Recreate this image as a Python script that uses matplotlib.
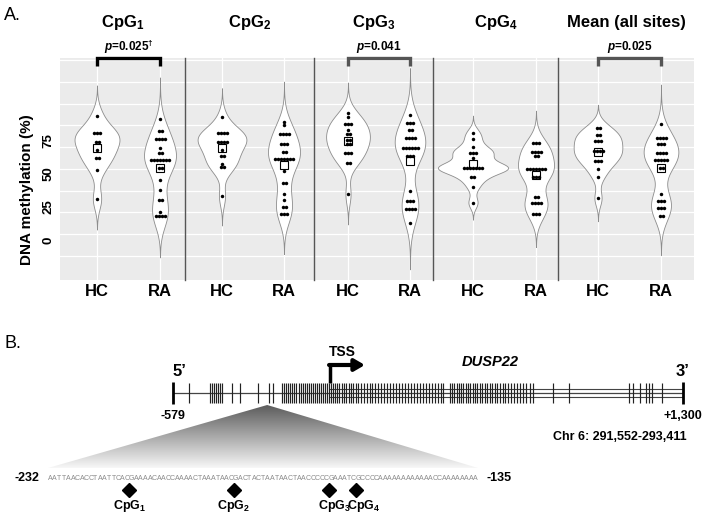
import numpy as np
import matplotlib.pyplot as plt
from matplotlib.colors import LinearSegmentedColormap
from matplotlib.patches import Polygon
import matplotlib.transforms as mtransforms

plt.rcParams['font.family'] = ['Liberation Sans', 'DejaVu Sans']
plt.rcParams['mathtext.fontset'] = 'custom'
plt.rcParams['mathtext.rm'] = 'Liberation Sans:bold'
plt.rcParams['mathtext.it'] = 'Liberation Sans:italic:bold'
plt.rcParams['mathtext.bf'] = 'Liberation Sans:bold'

W, H = 702, 518

# ---------------- data, panel A (% methylation)
site_titles = ['CpG$_1$', 'CpG$_2$', 'CpG$_3$', 'CpG$_4$', 'Mean (all sites)']
groups = ['HC', 'RA']
p_labels = ['$p$=0.025$^{\u2020}$', None, '$p$=0.041', None, '$p$=0.025']
bracket_colors = ['black', None, '#555555', None, '#555555']

hc_cpg1 = [94, 81, 81, 81, 74.5, 74.5, 68, 62.5, 62.5, 53, 31]
ra_cpg1 = [92, 82.5, 82.5, 76.5, 76.5, 76.5, 76.5, 70, 65.7, 65.7,
           60.6, 60.6, 60.6, 60.6, 60.6, 60.6, 60.6, 54.3, 54.3, 45.5,
           38, 30, 30, 21.5, 18, 18, 18, 18]
hc_cpg2 = [93, 81, 81, 81, 81, 74.5, 74.5, 74.5, 74.5, 68, 63.5, 63.5,
           57.5, 55, 55, 33]
ra_cpg2 = [89.6, 87, 80, 80, 80, 80, 72.5, 72.5, 72.5, 66.4, 66.4,
           61.4, 61.4, 61.4, 61.4, 61.4, 61.4, 61.4, 52.5, 43.4, 43.4,
           35, 30.3, 24.7, 24.7, 19.7, 19.7, 19.7]
hc_cpg3 = [96.5, 93, 88, 88, 88, 83, 80, 80, 76, 76, 73, 73, 65.7, 65.7,
           65.7, 58.6, 58.6, 34.6]
ra_cpg3 = [95, 89, 89, 89, 83, 83, 77, 77, 77, 77, 69.4, 69.4, 69.4,
           69.4, 69.4, 69.4, 63.6, 63.6, 63.6, 37.4, 29.8, 29.8, 29.8,
           23.2, 23.2, 23.2, 23.2, 13]
hc_cpg4 = [81.3, 76.3, 70.2, 66.2, 66.2, 66.2, 62, 54.8, 54.8, 54.8, 54.8,
           54.8, 54.8, 54.8, 47.5, 47.5, 40.4, 28.3]
ra_cpg4 = [73.2, 73.2, 73.2, 67, 67, 67, 67, 63.6, 63.6, 53.8, 53.8, 53.8,
           53.8, 53.8, 53.8, 53.8, 48, 48, 48, 32.8, 32.8, 27.8, 27.8,
           27.8, 27.8, 19.4, 19.4, 19.4]
hc_mean = [85, 85, 79.5, 79.5, 75.2, 75.2, 75.2, 67.4, 67.4, 67.4, 67.4,
           60, 60, 60, 53.5, 48, 31.6]
ra_mean = [88, 77.5, 77.5, 77.5, 77.5, 72.5, 72.5, 72.5, 65.7, 65.7, 65.7,
           65.7, 60.6, 60.6, 60.6, 60.6, 60.6, 54.3, 54.3, 34.8, 29.8,
           29.8, 29.8, 24.5, 24.5, 24.5, 18.4, 18.4]

hc_sets = [hc_cpg1, hc_cpg2, hc_cpg3, hc_cpg4, hc_mean]
ra_sets = [ra_cpg1, ra_cpg2, ra_cpg3, ra_cpg4, ra_mean]

# ---------------- data, panel B
region_start, region_end = -579, 1300
tss = 0
cpg_bp = [-520, -443, -435, -428, -421, -413, -406, -398, -362, -332, -266,
          -225, -211, -177, -170, -163, -155, -148, -141, -133, -126, -115,
          -107, -100, -93, -85, -78, -71, -63, -56, -48, -41, -34, -26, -19,
          -12, -4, 3, 10, 18, 25, 33, 44, 51, 58, 69, 77, 84, 95, 103, 114,
          125, 136, 147, 154, 165, 176, 187, 198, 209, 221, 232, 243, 254,
          265, 276, 287, 298, 309, 320, 331, 342, 353, 364, 375, 386, 397,
          408, 416, 442, 449, 456, 467, 475, 482, 490, 501, 508, 515, 526,
          534, 541, 552, 559, 571, 578, 589, 596, 607, 615, 626, 637, 644,
          655, 666, 677, 688, 700, 711, 722, 736, 747, 821, 880, 1101, 1116,
          1142, 1163, 1175, 1186, 1223]
seq_start, seq_end = -232, -135
sequence = ('AATTAACACCTAATTCACGAAAACAACCAAAACTAAATAACGACTACTAATAACTAACCC'
            'CCGAAATCGCCCCAAAAAAAAAAAACCAAAAAAAA')
seq_cpg_labels = ['CpG$_1$', 'CpG$_2$', 'CpG$_3$', 'CpG$_4$']


def nrd0(x):
    x = np.asarray(x, float)
    q75, q25 = np.percentile(x, [75, 25])
    s = min(np.std(x, ddof=1), (q75 - q25) / 1.34)
    return 0.9 * s * len(x) ** -0.2


def kde(x, cut=3, n=256):
    x = np.asarray(x, float)
    bw = nrd0(x)
    grid = np.linspace(x.min() - cut * bw, x.max() + cut * bw, n)
    d = np.exp(-0.5 * ((grid[:, None] - x[None, :]) / bw) ** 2).sum(1)
    return grid, d / (len(x) * bw * np.sqrt(2 * np.pi))


fig = plt.figure(figsize=(W / 100, H / 100), dpi=100)

# overlay axes in pixel units (used for the zoom wedge)
axo = fig.add_axes([0, 0, 1, 1])
axo.set_xlim(0, W)
axo.set_ylim(H, 0)
axo.axis('off')

# ---------------- panel A
facet_edges = [60, 185, 314, 433, 558, 694]
hc_px = [97, 222, 348, 473, 598]
ra_px = [160, 284, 410, 536, 661]
top_px, bot_px = 58, 280
y0_px, px_per_unit = 240, 33 / 25.0
ylim = ((y0_px - bot_px) / px_per_unit, (y0_px - top_px) / px_per_unit)
grid_y = np.arange(-12.1, 140, 16.5)
K = 870  # half-width in px per unit density

for i in range(5):
    l, r = facet_edges[i], facet_edges[i + 1]
    s = ra_px[i] - hc_px[i]
    ax = fig.add_axes([l / W, 1 - bot_px / H, (r - l) / W, (bot_px - top_px) / H])
    ax.set_facecolor('#EBEBEB')
    ax.set_xlim((l - hc_px[i]) / s, (r - hc_px[i]) / s)
    ax.set_ylim(*ylim)
    for gy in grid_y:
        ax.axhline(gy, color='white', lw=0.9, zorder=0.5)
    for gx in (0, 1):
        ax.axvline(gx, color='white', lw=0.9, zorder=0.5)

    for pos, vals in enumerate([hc_sets[i], ra_sets[i]]):
        grid, dens = kde(vals)
        hw = K * dens / s
        ax.fill_betweenx(grid, pos - hw, pos + hw, facecolor='white',
                         edgecolor='#8c8c8c', lw=0.6, zorder=2)
        uv, cnt = np.unique(vals, return_counts=True)
        dx = 3.0 / s
        for v, c in zip(uv, cnt):
            xs = pos + (np.arange(c) - (c - 1) / 2) * dx
            ax.plot(xs, [v] * c, 'o', color='black', ms=2.5, mew=0, zorder=3)
        ax.plot(pos, np.mean(vals), 's', ms=5.2, mfc='none', mec='black',
                mew=0.8, zorder=4)

    for sp in ax.spines.values():
        sp.set_visible(False)
    if i > 0:
        ax.spines['left'].set_visible(True)
        ax.spines['left'].set_color('#555555')
        ax.spines['left'].set_linewidth(1.0)

    ax.set_xticks([0, 1])
    ax.set_xticklabels(groups, fontsize=12, fontweight='bold')
    ax.tick_params(axis='x', length=0, pad=3)
    ax.set_yticks([0, 25, 50, 75])
    if i == 0:
        ax.set_yticklabels(['0', '25', '50', '75'], rotation=90, va='center',
                           fontsize=9.5, fontweight='bold')
    else:
        ax.set_yticklabels([])
    ax.tick_params(axis='y', length=0, pad=4)
    ax.grid(False)

    ax.text(0.5, 1.162, site_titles[i], transform=ax.transAxes, ha='center',
            va='center', fontsize=12, fontweight='bold')
    if p_labels[i]:
        trans = mtransforms.blended_transform_factory(ax.transData, ax.transAxes)
        ax.plot([0, 0, 1, 1], [0.962, 1.0, 1.0, 0.962], transform=trans,
                color=bracket_colors[i], lw=2.4, clip_on=False,
                solid_joinstyle='miter', solid_capstyle='butt', zorder=5)
        ax.text(0.5, 1.05, p_labels[i], transform=trans, ha='center',
                va='center', fontsize=8.5, fontweight='bold')

fig.text(27 / W, 1 - 190 / H, 'DNA methylation (%)', rotation=90,
         ha='center', va='center', fontsize=11, fontweight='bold')
fig.text(4 / W, 1 - 15 / H, 'A.', ha='left', va='center', fontsize=13)
fig.text(4 / W, 1 - 343 / H, 'B.', ha='left', va='center', fontsize=13)

# ---------------- panel B: gene track
axt = fig.add_axes([173 / W, 1 - 420 / H, 510 / W, 80 / H])
axt.set_xlim(region_start, region_end)
axt.set_ylim(-2.7, 5.3)
axt.axis('off')
axt.plot([region_start, region_end], [0, 0], color='#444444', lw=0.9)
for off in (-0.4, 0.4):
    axt.plot([tss, region_end], [off, off], color='#444444', lw=0.8)
axt.vlines(cpg_bp, -1, 1, color='#222222', lw=0.85)
axt.vlines([region_start, region_end], -1.1, 1.1, color='black', lw=2,
           clip_on=False)
axt.plot([tss, tss], [1, 2.8], color='black', lw=2.5,
         solid_capstyle='butt')
axt.annotate('', xy=(128, 2.8), xytext=(tss - 4, 2.8),
             arrowprops=dict(arrowstyle='-|>,head_length=0.6,head_width=0.35',
                             lw=3, color='black', shrinkA=0, shrinkB=0))
axt.text(44, 4.1, 'TSS', ha='center', va='center', fontsize=10,
         fontweight='bold')
axt.text(589, 3.1, 'DUSP22', ha='center', va='center', fontsize=10.5,
         fontweight='bold', fontstyle='italic')
axt.text(region_start, 2.1, '5\u2019', ha='left', va='center', fontsize=12,
         fontweight='bold')
axt.text(region_end, 2.1, '3\u2019', ha='center', va='center', fontsize=12,
         fontweight='bold')
axt.text(region_start, -2.3, '%d' % region_start, ha='center', va='center',
         fontsize=9, fontweight='bold')
axt.text(region_end, -2.3, '+{:,}'.format(region_end), ha='center',
         va='center', fontsize=9, fontweight='bold')
axt.text(region_end + 15, -4.4, 'Chr 6: 291,552-293,411', ha='right',
         va='center', fontsize=9, fontweight='bold', clip_on=False)

# ---------------- panel B: sequence
n = len(sequence)
axs = fig.add_axes([48 / W, 0, 430 / W, 50 / H])
axs.set_xlim(-0.5, n - 0.5)
axs.set_ylim(-5, 0)
axs.axis('off')
for k, ch in enumerate(sequence):
    axs.text(k, -1, ch, ha='center', va='center', fontsize=5,
             color='#8a8a8a')
cg_pos = [k + 0.5 for k in range(n - 1) if sequence[k:k + 2] == 'CG']
axs.plot(cg_pos, [-2.2] * len(cg_pos), 'D', color='black', ms=7.5)
label_dx = [0, 0, 4, 6]  # points, keeps CpG3/CpG4 labels apart
for lab, xp, dxl in zip(seq_cpg_labels, cg_pos, label_dx):
    axs.annotate(lab, xy=(xp, -3.8), xytext=(dxl, 0),
                 textcoords='offset points', ha='center', va='center',
                 fontsize=9, fontweight='bold')
axs.annotate('%d' % seq_start, xy=(-0.5, -1), xytext=(-6, 0),
             textcoords='offset points', ha='right', va='center',
             fontsize=9, fontweight='bold')
axs.annotate('%d' % seq_end, xy=(n - 0.5, -1), xytext=(6, 0),
             textcoords='offset points', ha='left', va='center',
             fontsize=9, fontweight='bold')

# zoom wedge from the track to the sequence
inv = axo.transData.inverted()
apex = inv.transform(axt.transData.transform((seq_start, -1.2)))
bl = inv.transform(axs.transData.transform((-0.5, 0)))
br = inv.transform(axs.transData.transform((n - 0.5, 0)))
wedge = Polygon([apex, bl, br], closed=True, facecolor='none',
                edgecolor='none')
axo.add_patch(wedge)
cmap = LinearSegmentedColormap.from_list('wedge', ['#5c5c5c', '#f7f7f7'])
grad = np.linspace(0, 1, 256).reshape(-1, 1)
im = axo.imshow(grad, cmap=cmap, aspect='auto', origin='upper',
                extent=(bl[0], br[0], bl[1], apex[1]), zorder=1)
im.set_clip_path(wedge)

fig.savefig('out.png', dpi=100)
